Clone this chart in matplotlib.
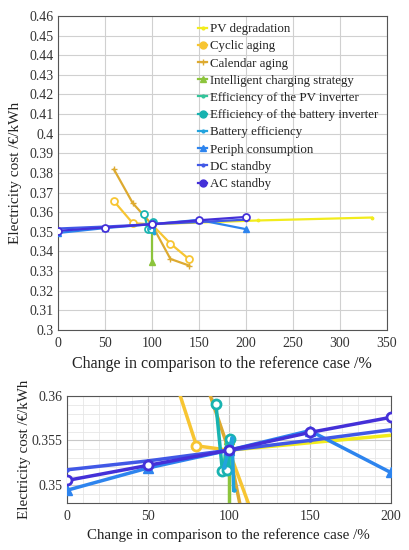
import matplotlib
matplotlib.use("Agg")
import matplotlib.pyplot as plt
from matplotlib.lines import Line2D
import numpy as np

plt.rcParams['font.family'] = ['Liberation Serif', 'DejaVu Serif']

# ---------------- data ----------------
series_names = ["PV degradation", "Cyclic aging", "Calendar aging",
                "Intelligent charging strategy", "Efficiency of the PV inverter",
                "Efficiency of the battery inverter", "Battery efficiency",
                "Periph consumption", "DC standby", "AC standby"]
colors = ["#F2EC1C", "#F7C532", "#DDAA30", "#8CC43C", "#33C49A",
          "#18B3B0", "#22A3DE", "#2D84EE", "#4158E6", "#4430D8"]
markers = [".", "o", "+", "^", ".", "o", ".", "^", ".", "o"]

pv_x = [100, 213, 334]
pv_y = [0.3539, 0.3558, 0.3573]
cyc_x = [60, 80, 100, 120, 140]
cyc_y = [0.3656, 0.3544, 0.3539, 0.3440, 0.3360]
cal_x = [60, 80, 100, 120, 140]
cal_y = [0.3818, 0.3646, 0.3539, 0.3362, 0.3328]
ics_x = [100, 100, 100]
ics_y = [0.3552, 0.3539, 0.3347]
pvi_x = [97, 99, 100, 101]
pvi_y = [0.3522, 0.3551, 0.3539, 0.3518]
bi_x = [92, 96, 100, 99, 101]
bi_y = [0.3591, 0.3516, 0.3539, 0.3517, 0.3552]
be_x = [97, 100, 102, 103]
be_y = [0.3520, 0.3539, 0.3553, 0.3494]
per_x = [0, 50, 100, 150, 200]
per_y = [0.3494, 0.3519, 0.3539, 0.3561, 0.3514]
dc_x = [0, 50, 100, 150, 200]
dc_y = [0.3517, 0.3527, 0.3539, 0.3550, 0.3562]
ac_x = [0, 50, 100, 150, 200]
ac_y = [0.3505, 0.3522, 0.3539, 0.3559, 0.3576]

xs = [pv_x, cyc_x, cal_x, ics_x, pvi_x, bi_x, be_x, per_x, dc_x, ac_x]
ys = [pv_y, cyc_y, cal_y, ics_y, pvi_y, bi_y, be_y, per_y, dc_y, ac_y]
hollow = [False, True, False, False, False, True, False, False, False, True]

top_yticks = [0.30, 0.31, 0.32, 0.33, 0.34, 0.35, 0.36, 0.37, 0.38, 0.39,
              0.40, 0.41, 0.42, 0.43, 0.44, 0.45, 0.46]
top_xticks = [0, 50, 100, 150, 200, 250, 300, 350]
bot_yticks = [0.35, 0.355, 0.36]
bot_xticks = [0, 50, 100, 150, 200]

def fmt(v):
    s = ("%.3f" % v).rstrip("0").rstrip(".")
    return s

fig = plt.figure(figsize=(4.09, 5.5), dpi=100)
ax1 = fig.add_axes([0.1406, 0.40, 0.8054, 0.571])
ax2 = fig.add_axes([0.1638, 0.086, 0.7915, 0.194])

fs = 10
for ax, lw, ms_big, ms_small in [(ax1, 1.6, 5, 3.5), (ax2, 2.5, 6.5, 4.5)]:
    for i in range(len(series_names)):
        m = markers[i]
        ms = ms_big if m in ("o", "^") else ms_small
        if m == "+":
            ms = ms_small + 1
        ax.plot(xs[i], ys[i], color=colors[i], lw=lw, marker=m, ms=ms,
                mfc="white" if hollow[i] else colors[i], mec=colors[i],
                mew=lw * 0.8 if hollow[i] else 1.0, zorder=3)
    for sp in ax.spines.values():
        sp.set_color("#555555")
        sp.set_linewidth(0.8)
    ax.tick_params(axis="both", labelsize=fs, length=0, colors="#333333")
    ax.tick_params(axis="y", pad=3)
    ax.tick_params(axis="x", pad=5)
    ax.set_axisbelow(True)

ax1.set_xlim(0, 350)
ax1.set_ylim(0.30, 0.46)
ax1.set_xticks(top_xticks)
ax1.set_yticks(top_yticks)
ax1.set_yticklabels([fmt(v) for v in top_yticks])
ax1.grid(True, color="#d0d0d0", lw=0.8)
ax1.set_xlabel("Change in comparison to the reference case /%", fontsize=11.5, labelpad=4,
               color="#222222")
ax1.set_ylabel("Electricity cost /€/kWh", fontsize=11, labelpad=5, color="#222222")

ax2.set_xlim(0, 200)
ax2.set_ylim(0.348, 0.36)
ax2.set_xticks(bot_xticks)
ax2.set_yticks(bot_yticks)
ax2.set_yticklabels([fmt(v) for v in bot_yticks])
ax2.set_xticks(np.arange(0, 201, 10), minor=True)
ax2.set_yticks(np.arange(0.348, 0.3601, 0.001), minor=True)
ax2.tick_params(which="minor", length=0)
ax2.grid(True, which="major", color="#c8c8c8", lw=0.8)
ax2.grid(True, which="minor", color="#e6e6e6", lw=0.6)
ax2.set_xlabel("Change in comparison to the reference case /%", fontsize=10.8, labelpad=4,
               color="#222222")
ax2.set_ylabel("Electricity cost /€/kWh", fontsize=10.8, labelpad=1, color="#222222")

handles = [Line2D([0], [0], color=colors[i], lw=1.6, marker=markers[i],
                  ms=(5 if markers[i] in ("o", "^") else 4), mfc=colors[i], mec=colors[i])
           for i in range(len(series_names))]
leg = ax1.legend(handles, series_names, loc="upper left", bbox_to_anchor=(0.40, 1.006),
                 frameon=False, fontsize=9.3, handlelength=0.7, handletextpad=0.2,
                 labelspacing=0.40, borderaxespad=0.3)
for t in leg.get_texts():
    t.set_color("#222222")

fig.savefig("out.png", dpi=100)
